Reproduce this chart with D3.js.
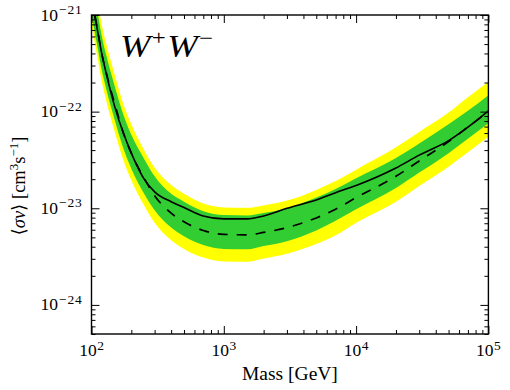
<!DOCTYPE html>
<html><head><meta charset="utf-8">
<script src="https://cdn.jsdelivr.net/npm/d3@7"></script>
<style>body{margin:0;background:#fff}</style>
</head><body>
<svg id="c" width="510" height="390"></svg>
<script>
// ---- data ----
const masses = [100,110,120,130,150,175,200,250,300,400,500,700,1000,1500,2000,3000,5000,7000,10000,20000,30000,50000,70000,100000];
const observed = [1.48e-21,7.41e-22,3.89e-22,2.40e-22,1.12e-22,5.89e-23,3.72e-23,2.00e-23,1.48e-23,1.17e-23,1.02e-23,8.32e-24,7.76e-24,7.76e-24,8.32e-24,1.00e-23,1.22e-23,1.45e-23,1.72e-23,2.61e-23,3.55e-23,5.01e-23,6.92e-23,1.02e-22];
const expected = [1.51e-21,7.59e-22,3.89e-22,2.45e-22,1.20e-22,5.89e-23,3.72e-23,2.04e-23,1.35e-23,8.91e-24,7.24e-24,5.89e-24,5.37e-24,5.31e-24,5.62e-24,6.31e-24,7.94e-24,9.77e-24,1.29e-23,2.14e-23,3.09e-23,4.90e-23,6.92e-23,1.00e-22];
const sigma1Upper = [2.29e-21,1.15e-21,5.89e-22,3.72e-22,1.82e-22,9.12e-23,5.75e-23,3.24e-23,2.14e-23,1.41e-23,1.17e-23,9.33e-24,8.51e-24,8.41e-24,8.91e-24,1.00e-23,1.29e-23,1.58e-23,2.04e-23,3.31e-23,4.68e-23,7.41e-23,1.02e-22,1.48e-22];
const sigma1Lower = [1.00e-21,5.01e-22,2.63e-22,1.66e-22,8.13e-23,4.07e-23,2.57e-23,1.41e-23,9.55e-24,6.31e-24,5.13e-24,4.17e-24,3.80e-24,3.76e-24,4.07e-24,4.57e-24,5.89e-24,7.41e-24,9.77e-24,1.62e-23,2.34e-23,3.72e-23,5.25e-23,7.59e-23];
const sigma2Upper = [3.02e-21,1.51e-21,7.76e-22,4.90e-22,2.40e-22,1.17e-22,7.41e-23,3.98e-23,2.63e-23,1.74e-23,1.41e-23,1.12e-23,1.02e-23,1.01e-23,1.07e-23,1.20e-23,1.55e-23,1.91e-23,2.51e-23,4.27e-23,6.17e-23,9.77e-23,1.41e-22,2.04e-22];
const sigma2Lower = [7.76e-22,3.89e-22,2.00e-22,1.26e-22,6.17e-23,3.09e-23,1.95e-23,1.07e-23,7.08e-24,4.68e-24,3.80e-24,3.09e-24,2.82e-24,2.79e-24,3.02e-24,3.39e-24,4.27e-24,5.25e-24,7.08e-24,1.17e-23,1.70e-23,2.69e-23,3.80e-23,5.50e-23];
const xTickExponents = ["2","3","4","5"];
const yTickExponents = ["−21","−22","−23","−24"];
const xDomain = [1e2, 1e5];
const yDomain = [5e-25, 1e-21];

// ---- layout ----
const L = 91.5, R = 488.4, T = 15, B = 334;
const svg = d3.select("#c");
const x = d3.scaleLog().domain(xDomain).range([L, R]);
const y = d3.scaleLog().domain(yDomain).range([B, T]);
const FONT = "'Liberation Serif', 'DejaVu Serif', serif";

svg.append("defs").append("clipPath").attr("id","clip")
  .append("rect").attr("x",L).attr("y",T).attr("width",R-L).attr("height",B-T);

const rows = masses.map((m,i)=>({m, obs:observed[i], exp:expected[i], g0:sigma1Lower[i], g1:sigma1Upper[i], y0:sigma2Lower[i], y1:sigma2Upper[i]}));
const plot = svg.append("g").attr("clip-path","url(#clip)");
const curve = d3.curveMonotoneX;
plot.append("path").datum(rows).attr("fill","#ffff00")
  .attr("d", d3.area().curve(curve).x(d=>x(d.m)).y0(d=>y(d.y0)).y1(d=>y(d.y1)));
plot.append("path").datum(rows).attr("fill","#32cd32")
  .attr("d", d3.area().curve(curve).x(d=>x(d.m)).y0(d=>y(d.g0)).y1(d=>y(d.g1)));
plot.append("path").datum(rows).attr("fill","none").attr("stroke","#000").attr("stroke-width",1.7)
  .attr("stroke-dasharray","10,9")
  .attr("d", d3.line().curve(curve).x(d=>x(d.m)).y(d=>y(d.exp)));
plot.append("path").datum(rows).attr("fill","none").attr("stroke","#000").attr("stroke-width",1.6)
  .attr("d", d3.line().curve(curve).x(d=>x(d.m)).y(d=>y(d.obs)));

// ---- ticks ----
function minorOf(domain){
  const out=[];
  for(let e=Math.floor(Math.log10(domain[0])); e<Math.ceil(Math.log10(domain[1])); e++)
    for(let j=2;j<=9;j++){ const v=j*Math.pow(10,e); if(v>=domain[0]&&v<=domain[1]) out.push(v); }
  return out;
}
const xMajor = xTickExponents.map(e=>Math.pow(10, +e.replace("−","-")));
const yMajor = yTickExponents.map(e=>Math.pow(10, +e.replace("−","-")));
const xMinor = minorOf(xDomain), yMinor = minorOf(yDomain);

function addAxis(axis, tr){
  const g = svg.append("g").attr("transform", tr).call(axis);
  g.select(".domain").remove();
  g.selectAll("text").remove();
  g.selectAll("line").attr("stroke","#000").attr("stroke-width",1);
}
[[xMajor,8],[xMinor,4]].forEach(([v,s])=>{
  addAxis(d3.axisBottom(x).tickValues(v).tickSize(-s), `translate(0,${B})`);
  addAxis(d3.axisTop(x).tickValues(v).tickSize(-s), `translate(0,${T})`);
});
[[yMajor,8],[yMinor,4]].forEach(([v,s])=>{
  addAxis(d3.axisLeft(y).tickValues(v).tickSize(-s), `translate(${L},0)`);
  addAxis(d3.axisRight(y).tickValues(v).tickSize(-s), `translate(${R},0)`);
});

svg.append("rect").attr("x",L).attr("y",T).attr("width",R-L).attr("height",B-T)
  .attr("fill","none").attr("stroke","#000").attr("stroke-width",1.4);

// ---- tick labels ----
xMajor.forEach((v,i)=>{
  const t = svg.append("text").attr("x", x(v)).attr("y", B+22).attr("text-anchor","middle")
    .attr("font-family",FONT).attr("font-size",17.5).attr("fill","#000");
  t.append("tspan").text("10");
  t.append("tspan").attr("dy",-6).attr("dx",0.5).attr("font-size",13.5).text(xTickExponents[i]);
});
yMajor.forEach((v,i)=>{
  const t = svg.append("text").attr("x", L-9).attr("y", y(v)+5.5).attr("text-anchor","end")
    .attr("font-family",FONT).attr("font-size",17.5).attr("fill","#000");
  t.append("tspan").text("10");
  t.append("tspan").attr("dy",-6.5).attr("dx",1).attr("font-size",13.5).attr("letter-spacing",0.8).text(yTickExponents[i]);
});

// ---- axis titles ----
svg.append("text").attr("x",(L+R)/2).attr("y",380).attr("text-anchor","middle")
  .attr("font-family",FONT).attr("font-size",19.5).text("Mass [GeV]");

const yl = svg.append("text").attr("transform","translate(25,186) rotate(-90)").attr("text-anchor","middle")
  .attr("font-family",FONT).attr("font-size",18.5);
yl.append("tspan").text("⟨");
yl.append("tspan").attr("font-style","italic").text("σv");
yl.append("tspan").text("⟩ [cm");
yl.append("tspan").attr("dy",-7.5).attr("font-size",13).text("3");
yl.append("tspan").attr("dy",7.5).text("s");
yl.append("tspan").attr("dy",-7.5).attr("font-size",13).text("−1");
yl.append("tspan").attr("dy",7.5).text("]");

// ---- annotation ----
const ann = svg.append("text").attr("transform","translate(120,57) scale(1.18,1)")
  .attr("font-family",FONT).attr("font-size",31);
ann.append("tspan").attr("font-style","italic").text("W");
ann.append("tspan").attr("dy",-12).attr("dx",1).attr("font-size",21).text("+");
ann.append("tspan").attr("dy",12).attr("dx",1.5).attr("font-style","italic").text("W");
ann.append("tspan").attr("dy",-12).attr("dx",1).attr("font-size",21).text("−");
</script>
</body></html>
